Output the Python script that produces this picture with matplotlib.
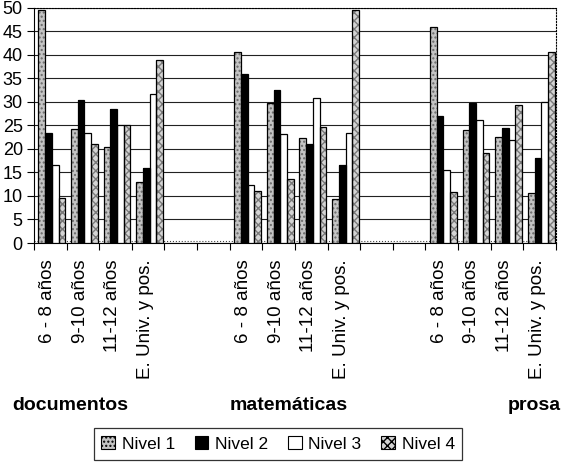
import numpy as np
import matplotlib
matplotlib.use("Agg")
from matplotlib import pyplot as plt
from matplotlib.patches import Patch

plt.rcParams['font.family'] = ['Liberation Sans', 'DejaVu Sans']

areas = ['documentos', 'matemáticas', 'prosa']
categorias = ['6 - 8 años', '9-10 años', '11-12 años', 'E. Univ. y pos.']
niveles = ['Nivel 1', 'Nivel 2', 'Nivel 3', 'Nivel 4']

# values per area: documentos, matemáticas, prosa (4 age groups each)
nivel1 = [49.5, 24.3, 20.5, 13.0, 40.6, 29.7, 22.3, 9.4, 46.0, 24.1, 22.5, 10.7]
nivel2 = [23.4, 30.4, 28.4, 15.9, 36.0, 32.5, 21.0, 16.6, 27.0, 29.7, 24.5, 18.0]
nivel3 = [16.6, 23.4, 25.1, 31.7, 12.4, 23.2, 30.8, 23.4, 15.5, 26.1, 22.0, 30.0]
nivel4 = [9.6, 21.0, 25.1, 39.0, 11.0, 13.6, 24.6, 49.6, 10.9, 19.1, 29.4, 40.6]

series = [nivel1, nivel2, nivel3, nivel4]
faces = ['#c4c4c4', '#000000', '#ffffff', '#d4d4d4']
hatches = ['....', None, None, 'xxxx']
hatch_cols = ['#6a6a6a', '#000000', '#ffffff', '#7a7a7a']

# x slots: 4 categories per area, 2 empty slots between areas
slots = []
for a in range(len(areas)):
    for c in range(len(categorias)):
        slots.append(a * 6 + c)
slots = np.array(slots)
n_slots = 16

fig = plt.figure(figsize=(5.65, 4.62), dpi=100)
ax = fig.add_axes([0.060, 0.474, 0.924, 0.509])

width = 0.205
shift = 0.05
for j, vals in enumerate(series):
    x = slots + shift + (j - 1.5) * width
    ax.bar(x, vals, width, color=faces[j], hatch=hatches[j],
           edgecolor=hatch_cols[j], linewidth=0, zorder=3)
    ax.bar(x, vals, width, fill=False, edgecolor='black', linewidth=0.9, zorder=4)

# floor edge of the original 3d chart
ax.axhline(0.5, color='#444444', linestyle=':', linewidth=0.8, zorder=1)

ax.set_xlim(-0.5, n_slots - 0.5)
ax.set_ylim(0, 50)
ax.set_yticks(np.arange(0, 51, 5))
ax.yaxis.grid(True, color='#222222', linewidth=0.8, zorder=0)
ax.tick_params(axis='y', labelsize=13, length=5, pad=3, direction='out')

ax.set_xticks(np.arange(-0.5, n_slots, 1.0))
ax.set_xticklabels([])
ax.tick_params(axis='x', length=5, direction='out')
ax.set_xticks(slots - 0.08, minor=True)
ax.set_xticklabels(categorias * len(areas), minor=True, rotation=90,
                   fontsize=13.5, va='top', ha='center')
ax.tick_params(axis='x', which='minor', length=0, pad=12)

ax.spines['top'].set_linestyle(':')
ax.spines['top'].set_linewidth(0.8)
ax.spines['right'].set_linestyle(':')
ax.spines['right'].set_linewidth(0.8)

group_x = [70 / 565, 289 / 565, 561 / 565]
group_ha = ['center', 'center', 'right']
for gx, name, ha in zip(group_x, areas, group_ha):
    fig.text(gx, 1 - 405 / 462, name, fontsize=14, fontweight='bold',
             ha=ha, va='center')

handles = [Patch(facecolor=faces[j], hatch=hatches[j], edgecolor='black', linewidth=0.8)
           for j in range(4)]
leg = fig.legend(handles, niveles, loc='center', bbox_to_anchor=(278 / 565, 1 - 444 / 462),
                 ncol=4, fontsize=12.5, frameon=True, fancybox=False, edgecolor='black',
                 handlelength=0.8, handleheight=0.8, handletextpad=0.4,
                 columnspacing=1.1, borderpad=0.45)
leg.get_frame().set_linewidth(0.9)

fig.savefig('out.png', dpi=100)
